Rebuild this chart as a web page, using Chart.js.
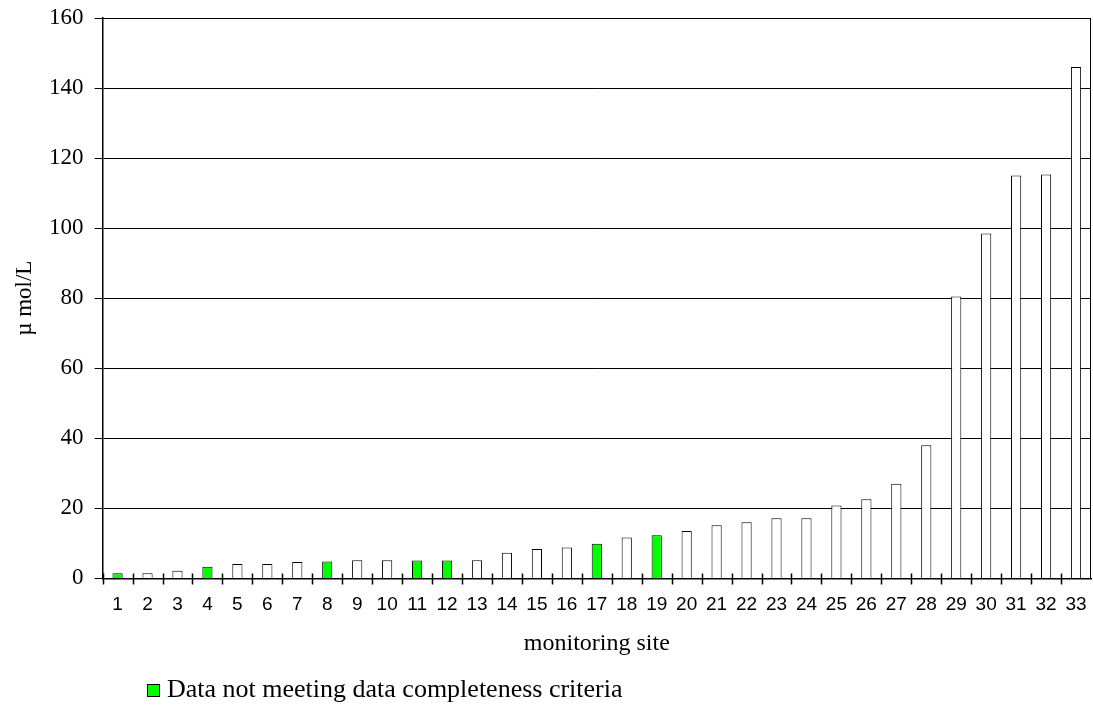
<!DOCTYPE html>
<html>
<head>
<meta charset="utf-8">
<script src="https://cdn.jsdelivr.net/npm/chart.js@4/dist/chart.umd.min.js"></script>
<style>
    body { margin: 0; background: #fff; }
    #wrap { position: relative; width: 1093px; height: 728px; }
    #legend {
        position: absolute; left: 147px; top: 674px;
        font-family: "Liberation Serif", "Times New Roman", serif;
        font-size: 26px; line-height: 30px; color: #000; white-space: nowrap;
    }
    #legend .box {
        display: inline-block; width: 11px; height: 11px;
        background: #00ff00; border: 1px solid #000;
        margin-right: 7px; vertical-align: 0px;
    }
</style>
</head>
<body>
<div id="wrap">
    <canvas id="chart" width="1093" height="728"></canvas>
    <div id="legend"><span class="box"></span>Data not meeting data completeness criteria</div>
</div>
<script>
// monitoring sites 1..33
const sites = ['1','2','3','4','5','6','7','8','9','10','11','12','13','14','15','16','17',
               '18','19','20','21','22','23','24','25','26','27','28','29','30','31','32','33'];
// concentration per site (µmol/L)
const values = [1.5, 1.5, 2.2, 3.3, 4.1, 4.1, 4.7, 4.8, 5.2, 5.2, 5.1, 5.1, 5.2, 7.3, 8.4, 8.8, 9.9,
                11.7, 12.3, 13.5, 15.2, 16.0, 17.2, 17.2, 20.8, 22.6, 27.0, 38.0, 80.5, 98.5, 115.0, 115.3, 146.0];
// sites whose data do not meet completeness criteria
const incompleteSites = ['1','4','8','11','12','17','19'];
const yTicks = [0, 20, 40, 60, 80, 100, 120, 140, 160];

const barColors = sites.map(s => incompleteSites.includes(s) ? '#00ff00' : '#ffffff');

// frame on top/right, short outside ticks on y, crossing ticks on x between categories
const framePlugin = {
    id: 'frame',
    afterDraw(chart) {
        const { ctx, chartArea: a, scales: { x, y } } = chart;
        ctx.save();
        ctx.strokeStyle = '#000';
        ctx.lineWidth = 1;
        ctx.beginPath();
        ctx.moveTo(a.left, a.top + 0.5);
        ctx.lineTo(a.right - 0.5, a.top + 0.5);
        ctx.lineTo(a.right - 0.5, a.bottom);
        yTicks.forEach(v => {
            const py = Math.round(y.getPixelForValue(v)) + 0.5;
            ctx.moveTo(a.left - 8, py);
            ctx.lineTo(a.left, py);
        });
        ctx.stroke();
        const half = (x.getPixelForValue(1) - x.getPixelForValue(0)) / 2;
        ctx.lineWidth = 1.5;
        ctx.beginPath();
        for (let i = 0; i < sites.length; i++) {
            const px = Math.round(x.getPixelForValue(i) - half) + 0.5;
            ctx.moveTo(px, a.bottom - 5);
            ctx.lineTo(px, a.bottom + 6);
        }
        ctx.stroke();
        ctx.restore();
    }
};

new Chart(document.getElementById('chart'), {
    type: 'bar',
    data: {
        labels: sites,
        datasets: [{
            label: 'µmol/L',
            data: values,
            backgroundColor: barColors,
            borderColor: '#000',
            borderWidth: 1,
            borderSkipped: 'bottom',
            categoryPercentage: 1,
            barPercentage: 0.34
        }]
    },
    options: {
        responsive: false,
        animation: false,
        layout: { padding: { top: 18, right: 2, bottom: 70, left: 4.5 } },
        plugins: {
            legend: { display: false },
            tooltip: { enabled: false }
        },
        scales: {
            x: {
                offset: true,
                grid: { display: true, drawOnChartArea: false, tickColor: 'transparent', tickLength: 13 },
                border: { color: '#000', width: 1.5 },
                ticks: {
                    color: '#000',
                    padding: 2,
                    maxRotation: 0,
                    autoSkip: false,
                    font: { family: '"Liberation Sans", Arial, sans-serif', size: 19 }
                },
                title: {
                    display: true,
                    text: 'monitoring site',
                    color: '#000',
                    padding: { top: 11, bottom: 0 },
                    font: { family: '"Liberation Serif", "Times New Roman", serif', size: 24 }
                }
            },
            y: {
                min: 0,
                max: 160,
                afterBuildTicks(scale) {
                    scale.ticks = yTicks.map(v => ({ value: v }));
                },
                grid: { color: '#000', lineWidth: 1, tickColor: 'transparent', tickLength: 16 },
                border: { color: '#000', width: 1.5 },
                ticks: {
                    color: '#000',
                    padding: 3,
                    font: { family: '"Liberation Serif", "Times New Roman", serif', size: 23 }
                },
                title: {
                    display: true,
                    text: 'µ mol/L',
                    color: '#000',
                    padding: { top: 7, bottom: 7 },
                    font: { family: '"Liberation Serif", "Times New Roman", serif', size: 23 }
                }
            }
        }
    },
    plugins: [framePlugin]
});
</script>
</body>
</html>
